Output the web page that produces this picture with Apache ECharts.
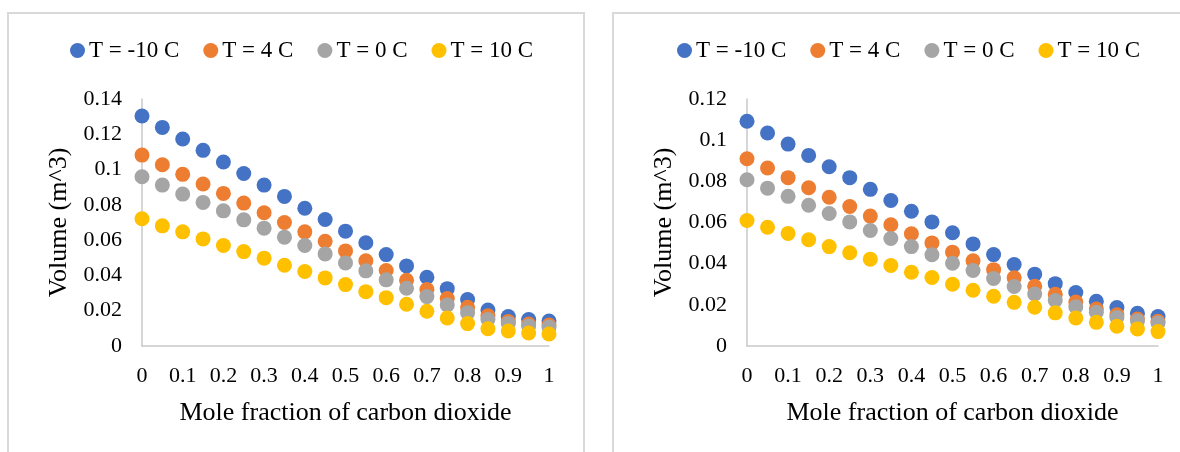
<!DOCTYPE html>
<html>
<head>
<meta charset="utf-8">
<title>Volume vs mole fraction of CO2</title>
<script src="https://cdn.jsdelivr.net/npm/echarts@6/dist/echarts.min.js"></script>
<style>
  html, body { margin: 0; padding: 0; background: #fff; }
  #main { width: 1180px; height: 452px; }
</style>
</head>
<body>
<div id="main"></div>
<script>
// x: mole fraction of CO2
var moleFraction = [0, 0.05, 0.1, 0.15, 0.2, 0.25, 0.3, 0.35, 0.4, 0.45, 0.5,
                    0.55, 0.6, 0.65, 0.7, 0.75, 0.8, 0.85, 0.9, 0.95, 1];
var seriesNames = ['T = -10 C', 'T = 4 C', 'T = 0 C', 'T = 10 C'];

// left panel volumes (m^3)
var leftTm10 = [0.1304, 0.1239, 0.1173, 0.1109, 0.1043, 0.0978, 0.0912, 0.0848, 0.0781, 0.0717, 0.0651,
                0.0585, 0.0518, 0.0454, 0.0390, 0.0325, 0.0263, 0.0204, 0.0167, 0.0150, 0.0141];
var leftT4   = [0.1082, 0.1027, 0.0973, 0.0918, 0.0865, 0.0810, 0.0755, 0.0700, 0.0647, 0.0594, 0.0539,
                0.0483, 0.0428, 0.0373, 0.0320, 0.0269, 0.0220, 0.0171, 0.0139, 0.0125, 0.0119];
var leftT0   = [0.0959, 0.0912, 0.0861, 0.0814, 0.0766, 0.0715, 0.0668, 0.0617, 0.0570, 0.0522, 0.0471,
                0.0426, 0.0375, 0.0327, 0.0280, 0.0233, 0.0189, 0.0150, 0.0128, 0.0114, 0.0108];
var leftT10  = [0.0721, 0.0681, 0.0647, 0.0607, 0.0570, 0.0535, 0.0498, 0.0458, 0.0422, 0.0386, 0.0348,
                0.0308, 0.0274, 0.0237, 0.0197, 0.0159, 0.0127, 0.0098, 0.0085, 0.0074, 0.0068];

// right panel volumes (m^3)
var rightTm10 = [0.1092, 0.1035, 0.0981, 0.0926, 0.0871, 0.0818, 0.0761, 0.0707, 0.0655, 0.0603, 0.0550,
                 0.0496, 0.0444, 0.0396, 0.0349, 0.0303, 0.0260, 0.0217, 0.0187, 0.0159, 0.0143];
var rightT4   = [0.0910, 0.0865, 0.0818, 0.0769, 0.0723, 0.0678, 0.0631, 0.0589, 0.0545, 0.0501, 0.0456,
                 0.0414, 0.0371, 0.0331, 0.0290, 0.0251, 0.0214, 0.0180, 0.0152, 0.0131, 0.0120];
var rightT0   = [0.0808, 0.0767, 0.0727, 0.0684, 0.0644, 0.0603, 0.0561, 0.0522, 0.0483, 0.0443, 0.0402,
                 0.0367, 0.0328, 0.0289, 0.0253, 0.0221, 0.0191, 0.0164, 0.0139, 0.0123, 0.0112];
var rightT10  = [0.0610, 0.0577, 0.0547, 0.0516, 0.0483, 0.0453, 0.0422, 0.0391, 0.0358, 0.0333, 0.0300,
                 0.0271, 0.0242, 0.0212, 0.0188, 0.0161, 0.0136, 0.0115, 0.0096, 0.0083, 0.0070];

var colors = ['#4472C4', '#ED7D31', '#A5A5A5', '#FFC000'];
var FONT = '"Liberation Serif", "Times New Roman", serif';

function pairs(ys) {
  return moleFraction.map(function (x, i) { return [x, ys[i]]; });
}

function scatter(name, idx, ys) {
  return {
    name: name,
    type: 'scatter',
    xAxisIndex: idx,
    yAxisIndex: idx,
    symbol: 'circle',
    symbolSize: 15,
    itemStyle: { opacity: 1 },
    data: pairs(ys)
  };
}

function xAx(idx) {
  return {
    gridIndex: idx,
    type: 'value',
    min: 0, max: 1, interval: 0.1,
    name: 'Mole fraction of carbon dioxide',
    nameLocation: 'middle',
    nameGap: 54,
    nameTextStyle: { fontFamily: FONT, fontSize: 26, color: '#000' },
    axisLine: { show: true, lineStyle: { color: '#c9c9c9', width: 1.5 } },
    axisTick: { show: false },
    splitLine: { show: false },
    axisLabel: { fontFamily: FONT, fontSize: 22, color: '#000', margin: 19 }
  };
}

function yAx(idx, max) {
  return {
    gridIndex: idx,
    type: 'value',
    min: 0, max: max, interval: 0.02,
    name: 'Volume (m^3)',
    nameLocation: 'middle',
    nameGap: 70,
    nameTextStyle: { fontFamily: FONT, fontSize: 26, color: '#000' },
    axisLine: { show: true, lineStyle: { color: '#c9c9c9', width: 1.5 } },
    axisTick: { show: false },
    splitLine: { show: false },
    axisLabel: { fontFamily: FONT, fontSize: 22, color: '#000', margin: 20 }
  };
}

function legend(left) {
  return {
    data: seriesNames,
    left: left,
    top: 34,
    icon: 'circle',
    itemWidth: 15,
    itemHeight: 15,
    itemGap: 24,
    textStyle: { fontFamily: FONT, fontSize: 23, color: '#000', padding: [0, 0, 0, -1] }
  };
}

var myChart = echarts.init(document.getElementById('main'));
var option = {
  animation: false,
  color: colors,
  graphic: [
    { type: 'rect', shape: { x: 8, y: 13, width: 576, height: 460 },
      style: { fill: 'none', stroke: '#d9d9d9', lineWidth: 2 }, silent: true },
    { type: 'rect', shape: { x: 613, y: 13, width: 600, height: 460 },
      style: { fill: 'none', stroke: '#d9d9d9', lineWidth: 2 }, silent: true }
  ],
  legend: [legend(65), legend(672)],
  grid: [
    { left: 142, top: 99, width: 407, height: 247 },
    { left: 747, top: 99, width: 411, height: 247 }
  ],
  xAxis: [xAx(0), xAx(1)],
  yAxis: [yAx(0, 0.14), yAx(1, 0.12)],
  series: [
    scatter(seriesNames[0], 0, leftTm10),
    scatter(seriesNames[1], 0, leftT4),
    scatter(seriesNames[2], 0, leftT0),
    scatter(seriesNames[3], 0, leftT10),
    scatter(seriesNames[0], 1, rightTm10),
    scatter(seriesNames[1], 1, rightT4),
    scatter(seriesNames[2], 1, rightT0),
    scatter(seriesNames[3], 1, rightT10)
  ]
};
myChart.setOption(option);
</script>
</body>
</html>
